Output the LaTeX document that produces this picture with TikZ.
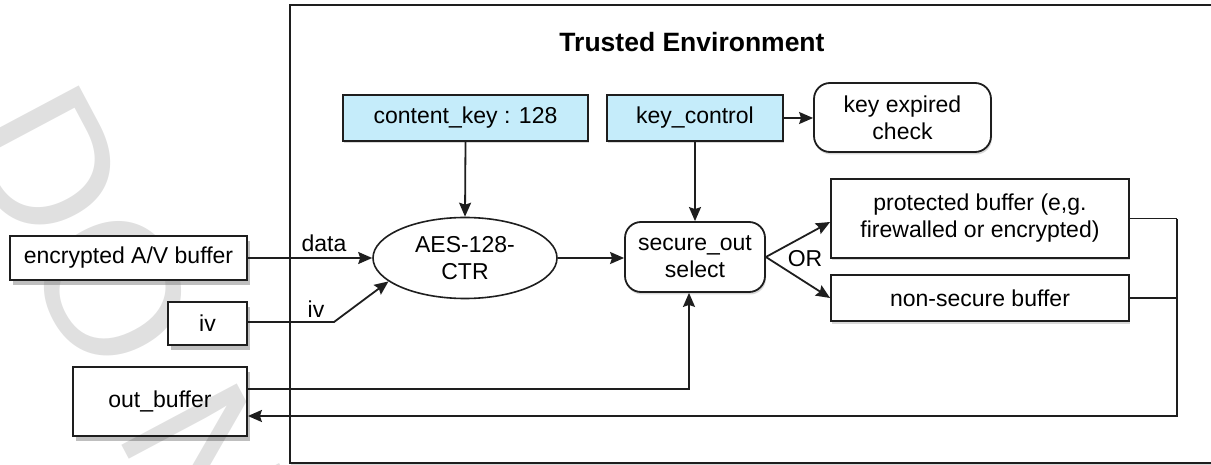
\documentclass[tikz,border=0pt]{standalone}
\usepackage{fontspec}
\setmainfont{Liberation Sans}
\usetikzlibrary{arrows.meta,shapes.geometric,shadows,calc}
\definecolor{keyblue}{RGB}{197,236,250}
\definecolor{linec}{RGB}{30,30,30}
\begin{document}
\begin{tikzpicture}[x=1pt,y=-1pt,
  txt/.style={font=\fontsize{23}{27}\selectfont, inner sep=0pt, align=center, text=black},
  conn/.style={line width=1.8pt, draw=linec},
  arr/.style={conn, -{Stealth[length=14pt,width=12pt,inset=2pt]}},
  box/.style={txt, draw=linec, line width=1.8pt, fill=white},
  shbox/.style={box, drop shadow={shadow xshift=2.5pt, shadow yshift=-5pt, opacity=0.5}},
  lshbox/.style={box, drop shadow={shadow xshift=1pt, shadow yshift=-2.5pt, opacity=0.3}},
  keybox/.style={lshbox, fill=keyblue},
  rbox/.style={lshbox, rounded corners=16pt},
]
\useasboundingbox (0,0) rectangle (1211,465);
\clip (0,0) rectangle (1211,465);
\fill[white] (0,0) rectangle (1211,465);
% trusted environment
\node[draw=linec, line width=1.8pt, minimum width=950pt, minimum height=458pt,
      drop shadow={shadow xshift=1pt, shadow yshift=-2.5pt, opacity=0.3}, fill=white,
      inner sep=0pt] (trusted) at (765,234) {};
\node[shbox, minimum width=174pt, minimum height=69pt] (outb) at (160,401.5) {out\_buffer};
% watermark
\node[anchor=base west, rotate=-62, inner sep=0pt, text=black, text opacity=0.12,
      font=\fontsize{190}{190}\selectfont] (wm) at (-44,133) {DO NOT};
\node[txt, font=\bfseries\fontsize{26.5}{30}\selectfont] (title) at (692,42) {Trusted Environment};
% left boxes
\node[shbox, minimum width=237pt, minimum height=44pt] (enc) at (128.5,258) {encrypted A/V buffer};
\node[shbox, minimum width=79pt, minimum height=43pt] (iv) at (207.5,323.5) {iv};
% key boxes
\node[keybox, minimum width=245pt, minimum height=46pt] (ck) at (465.5,118) {content\_key : 128};
\node[keybox, minimum width=176pt, minimum height=46pt] (kc) at (695,118) {key\_control};
\node[rbox, minimum width=177pt, minimum height=69pt] (kexp) at (902.5,117.5) {key expired\\check};
% processing
\node[txt, ellipse, draw=linec, line width=1.6pt, fill=white, minimum width=184pt, minimum height=81pt] (aes) at (465,258) {AES-128-\\CTR};
\node[rbox, minimum width=140pt, minimum height=70pt] (sel) at (695,257) {secure\_out\\select};
\node[lshbox, minimum width=298pt, minimum height=79pt] (prot) at (980,218.5) {protected buffer (e,g.\\firewalled or encrypted)};
\node[lshbox, minimum width=298pt, minimum height=46pt] (nons) at (980,298) {non-secure buffer};
% labels
\node[txt] (datalbl) at (324,243) {data};
\node[txt] (ivlbl) at (316,309) {iv};
\node[txt] (orlbl) at (805,259) {OR};
% connectors
\coordinate (ivbend) at (334,322);
\coordinate (rj) at (1177,219);
\coordinate (rb) at (1177,416);
\draw[arr] (enc.east) -- (aes.west);
\draw[arr] (iv.east |- ivbend) -- (ivbend) -- (aes.197);
\draw[arr] (ck.south) -- (aes.north);
\draw[arr] (aes.east) -- (aes.east -| sel.west);
\draw[arr] (kc.south) -- (sel.north);
\draw[arr] (kc.east) -- (kc.east -| kexp.west);
\draw[arr] (sel.east) -- ($(prot.west)+(0,3.5)$);
\draw[arr] (sel.east) -- (nons.west);
\draw[arr] ($(outb.east)+(0,-12.5)$) -| ($(sel.south)+(-6,0)$);
\draw[conn] (prot.east) -- (prot.east -| rj);
\draw[conn] (nons.east) -- (nons.east -| rj);
\draw[arr] (rj) -- (rb) -- (rb -| outb.east);
\end{tikzpicture}
\end{document}
